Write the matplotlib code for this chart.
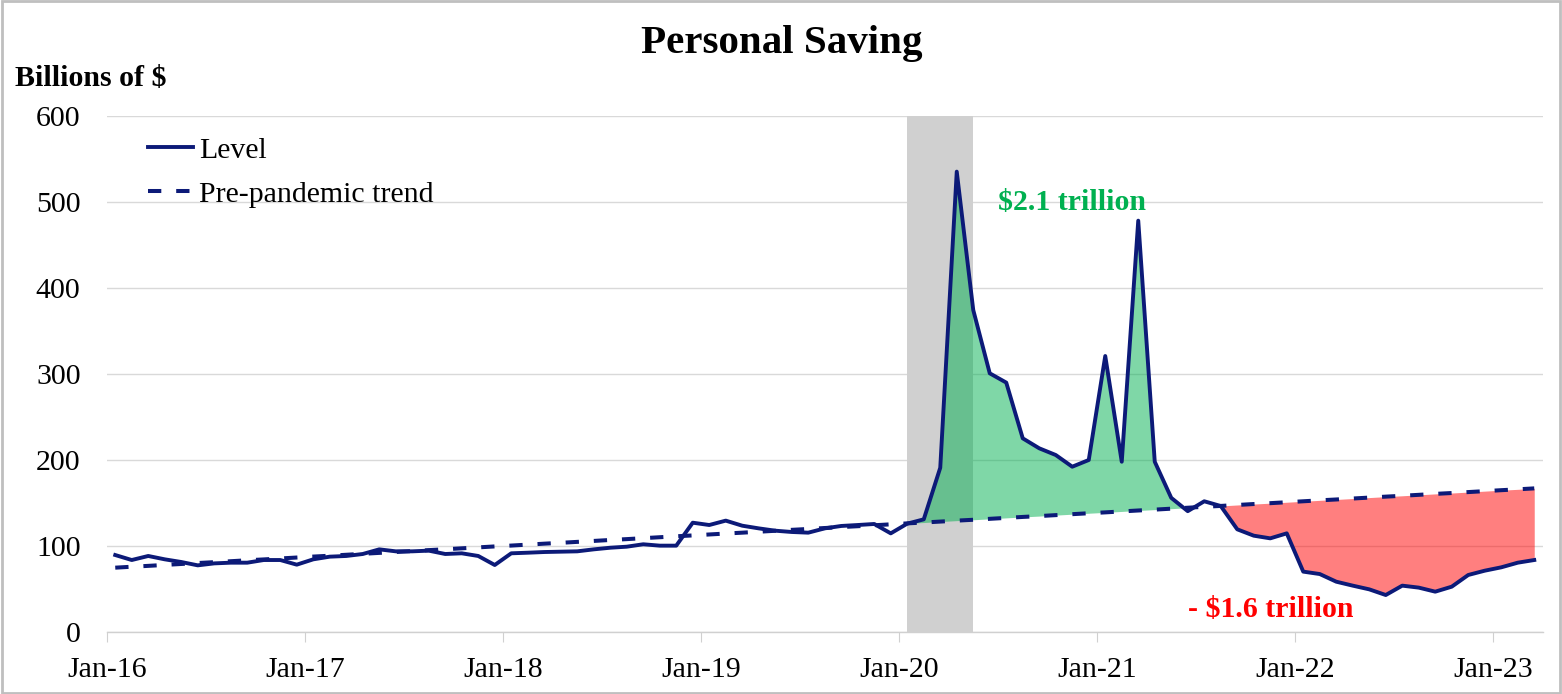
import matplotlib
matplotlib.use("Agg")
import matplotlib.pyplot as plt
import matplotlib.patches as mpatches
import numpy as np

# ---------------- data ----------------
tick_labels = ["Jan-16", "Jan-17", "Jan-18", "Jan-19", "Jan-20", "Jan-21", "Jan-22", "Jan-23"]
yticks = [0, 100, 200, 300, 400, 500, 600]

# Personal saving level, monthly Jan-16 .. Mar-23 (billions of $)
level = [89.5, 83.7, 88.4, 84.5, 81.4, 77.5, 79.8, 80.6, 80.6, 83.7, 83.7, 78.3,
         84.5, 87.6, 88.4, 90.7, 96.1, 93.8, 93.8, 94.6, 90.7, 91.5, 88.4, 77.9,
         91.5, 92.2, 93.0, 93.4, 93.8, 96.1, 98.0, 99.2, 102.0, 100.4, 100.4, 127.1,
         124.4, 129.5, 123.6, 120.5, 117.8, 116.3, 115.5, 120.5, 123.3, 124.4, 125.6, 114.7,
         126.0, 131.0, 191.0, 535.3, 374.4, 300.8, 290.0, 225.2, 213.6, 205.8, 192.2, 200.0,
         320.9, 198.0, 478.3, 198.0, 156.0, 140.5, 152.0, 146.5, 119.4, 112.0, 108.9, 114.7,
         70.2, 67.4, 58.5, 53.9, 49.6, 43.0, 53.9, 51.6, 46.9, 52.7, 66.3, 71.3,
         75.2, 80.6, 83.7]

# Pre-pandemic trend, monthly Jan-16 .. Mar-23 (billions of $)
trend = [74.8, 75.9, 76.9, 78.0, 79.1, 80.2, 81.2, 82.3, 83.4, 84.4, 85.5, 86.6,
         87.7, 88.7, 89.8, 90.9, 92.0, 93.0, 94.1, 95.2, 96.2, 97.3, 98.4, 99.5,
         100.5, 101.6, 102.7, 103.7, 104.8, 105.9, 107.0, 108.0, 109.1, 110.2, 111.3, 112.3,
         113.4, 114.5, 115.5, 116.6, 117.7, 118.8, 119.8, 120.9, 122.0, 123.0, 124.1, 125.2,
         126.3, 127.3, 128.4, 129.5, 130.5, 131.6, 132.7, 133.8, 134.8, 135.9, 137.0, 138.1,
         139.1, 140.2, 141.3, 142.3, 143.4, 144.5, 145.6, 146.6, 147.7, 148.8, 149.8, 150.9,
         152.0, 153.1, 154.1, 155.2, 156.3, 157.4, 158.4, 159.5, 160.6, 161.6, 162.7, 163.8,
         164.9, 165.9, 167.0]

recession_start = 48   # month index of shaded band start
recession_end = 52     # month index of shaded band end
excess_start = 48      # green area month range
excess_end = 65
shortfall_start = 67   # red area from here

excess_label = "$2.1 trillion"
shortfall_label = "- $1.6 trillion"

# ---------------- plot ----------------
W, H = 1562, 694
fig = plt.figure(figsize=(W / 100, H / 100), dpi=100)
ax = fig.add_axes([107 / W, 1 - 632 / H, (1542.5 - 107) / W, (632 - 116) / H])

serif = ["Liberation Serif", "DejaVu Serif"]
navy = "#0c1a78"

x = np.arange(len(level))
lv = np.array(level)
tr = np.array(trend)

ax.axvspan(recession_start, recession_end, color="#d0d0d0", zorder=1, lw=0)

green_mask = (x >= excess_start) & (x <= excess_end)
red_mask = (x >= shortfall_start)
ax.fill_between(x, lv, tr, where=green_mask & (lv >= tr) | (green_mask & (x == excess_end)),
                interpolate=True, color="#00b050", alpha=0.5, lw=0, zorder=2)
ax.fill_between(x, lv, tr, where=red_mask & (lv <= tr),
                interpolate=True, color="#ff0000", alpha=0.5, lw=0, zorder=2)

ax.plot(x, lv, color=navy, lw=2.8, zorder=4, solid_joinstyle="round", label="Level")
ax.plot(x, tr, color=navy, lw=2.9, dashes=(3.3, 3.7), zorder=3, label="Pre-pandemic trend")

ax.set_xlim(-0.5, len(level) - 0.5)
ax.set_ylim(0, 600)
ax.set_yticks(yticks)
ax.set_xticks([-0.5 + 12 * k for k in range(len(tick_labels))])
ax.set_xticklabels(tick_labels)

ax.grid(axis="y", color="#d9d9d9", lw=1.0, zorder=0)
ax.set_axisbelow(True)
for s in ["top", "right", "left"]:
    ax.spines[s].set_visible(False)
ax.spines["bottom"].set_color("#d0d0d0")
ax.spines["bottom"].set_linewidth(1.0)
ax.tick_params(axis="x", length=7, color="#d0d0d0", pad=11, labelsize=21.5)
ax.tick_params(axis="y", length=0, pad=19, labelsize=21.5)
for lab in ax.get_xticklabels() + ax.get_yticklabels():
    lab.set_fontfamily(serif)

ax.text(58.0, 499, excess_label, color="#00b050", fontsize=21.5, fontweight="bold",
        family=serif, ha="center", va="center", zorder=5)
ax.text(70.0, 25.6, shortfall_label, color="#ff0000", fontsize=21.5, fontweight="bold",
        family=serif, ha="center", va="center", zorder=5)

leg = ax.legend(loc="upper left", bbox_to_anchor=(0.0286, 0.96), frameon=False,
                borderaxespad=0, borderpad=0, handlelength=1.5, handletextpad=0.2,
                labelspacing=0.58, prop={"family": serif, "size": 21.5})

fig.text(782 / W, 1 - 44 / H, "Personal Saving", fontsize=29.5, fontweight="bold",
         family=serif, ha="center", va="center")
fig.text(15 / W, 1 - 78 / H, "Billions of $", fontsize=21.5, fontweight="bold",
         family=serif, ha="left", va="center")

fig.patches.append(mpatches.Rectangle((0.001, 0.002), 0.998, 0.996, transform=fig.transFigure,
                                      fill=False, edgecolor="#bfbfbf", lw=2))

fig.savefig("out.png", dpi=100)
